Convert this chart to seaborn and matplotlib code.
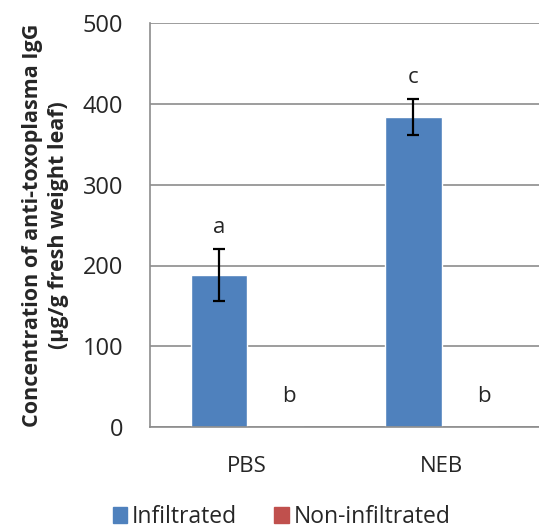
import numpy as np
import pandas as pd
import matplotlib
matplotlib.use('Agg')
import matplotlib.pyplot as plt
import seaborn as sns
from matplotlib.ticker import MultipleLocator, FixedLocator

# Данные с графика
treatments = ['PBS', 'NEB']
groups = ['Infiltrated', 'Non-infiltrated']
infiltrated = [188, 384]
infiltrated_err = [32, 22]
non_infiltrated = [0, 0]
letters_inf = ['a', 'c']
letters_non = ['b', 'b']

colors = {'Infiltrated': '#4F81BD', 'Non-infiltrated': '#C0504D'}

df = pd.DataFrame({
    'treatment': treatments * 2,
    'group': [groups[0]] * 2 + [groups[1]] * 2,
    'value': infiltrated + non_infiltrated,
})

sns.set_style('white')
plt.rcParams['font.family'] = ['Open Sans', 'DejaVu Sans']

fig = plt.figure(figsize=(5.39, 5.31), dpi=100)
ax = fig.add_axes([0.278, 0.196, 0.722, 0.760])

sns.barplot(
    data=df, x='treatment', y='value', hue='group',
    order=treatments, hue_order=groups, palette=colors, saturation=1,
    width=0.58, errorbar=None, ax=ax, legend=True,
)

# Позиции столбцов из самого графика
half = 0.58 / 4
x_pos = np.arange(len(treatments))
ax.errorbar(x_pos - half, infiltrated, yerr=infiltrated_err, fmt='none',
            ecolor='black', elinewidth=1.6, capsize=4.5, capthick=1.6, zorder=4)

for x, y, e, lab in zip(x_pos - half, infiltrated, infiltrated_err, letters_inf):
    ax.text(x, y + e + 27, lab, ha='center', va='center', fontsize=16)
for x, lab in zip(x_pos + half, letters_non):
    ax.text(x + 0.07, 38, lab, ha='center', va='center', fontsize=16)

ax.set_ylim(0, 500)
ax.set_xlim(-0.5, 1.5)
ax.yaxis.set_major_locator(MultipleLocator(100))
ax.grid(axis='y', color='#8c8c8c', linewidth=1.2)
ax.set_axisbelow(True)

# Подписи оси X по центрам, засечки по границам категорий
ax.set_xticks(x_pos)
ax.set_xticklabels(treatments, fontsize=16)
ax.xaxis.set_minor_locator(FixedLocator([0.5, 1.5]))
ax.tick_params(axis='x', which='major', length=0, pad=21)
ax.tick_params(axis='x', which='minor', length=7, color='#8c8c8c', width=1.2)
ax.tick_params(axis='y', length=8, color='#8c8c8c', width=1.2, labelsize=17, pad=11)

for side in ['top', 'right']:
    ax.spines[side].set_visible(False)
for side in ['left', 'bottom']:
    ax.spines[side].set_color('#8c8c8c')
    ax.spines[side].set_linewidth(1.2)

ax.set_xlabel('')
ax.set_ylabel('Concentration of anti-toxoplasma IgG\n(µg/g fresh weight leaf)',
              fontsize=15.5, fontweight='bold', labelpad=10, linespacing=1.32)

ax.get_legend().remove()
handles = [plt.Rectangle((0, 0), 1, 1, color=colors[g]) for g in groups]
fig.legend(handles, groups, loc='center', bbox_to_anchor=(0.522, 0.026), ncol=2,
           frameon=False, fontsize=16.5, handlelength=0.65, handleheight=0.65,
           handletextpad=0.2, columnspacing=1.6)

fig.savefig('out.png', dpi=100)
